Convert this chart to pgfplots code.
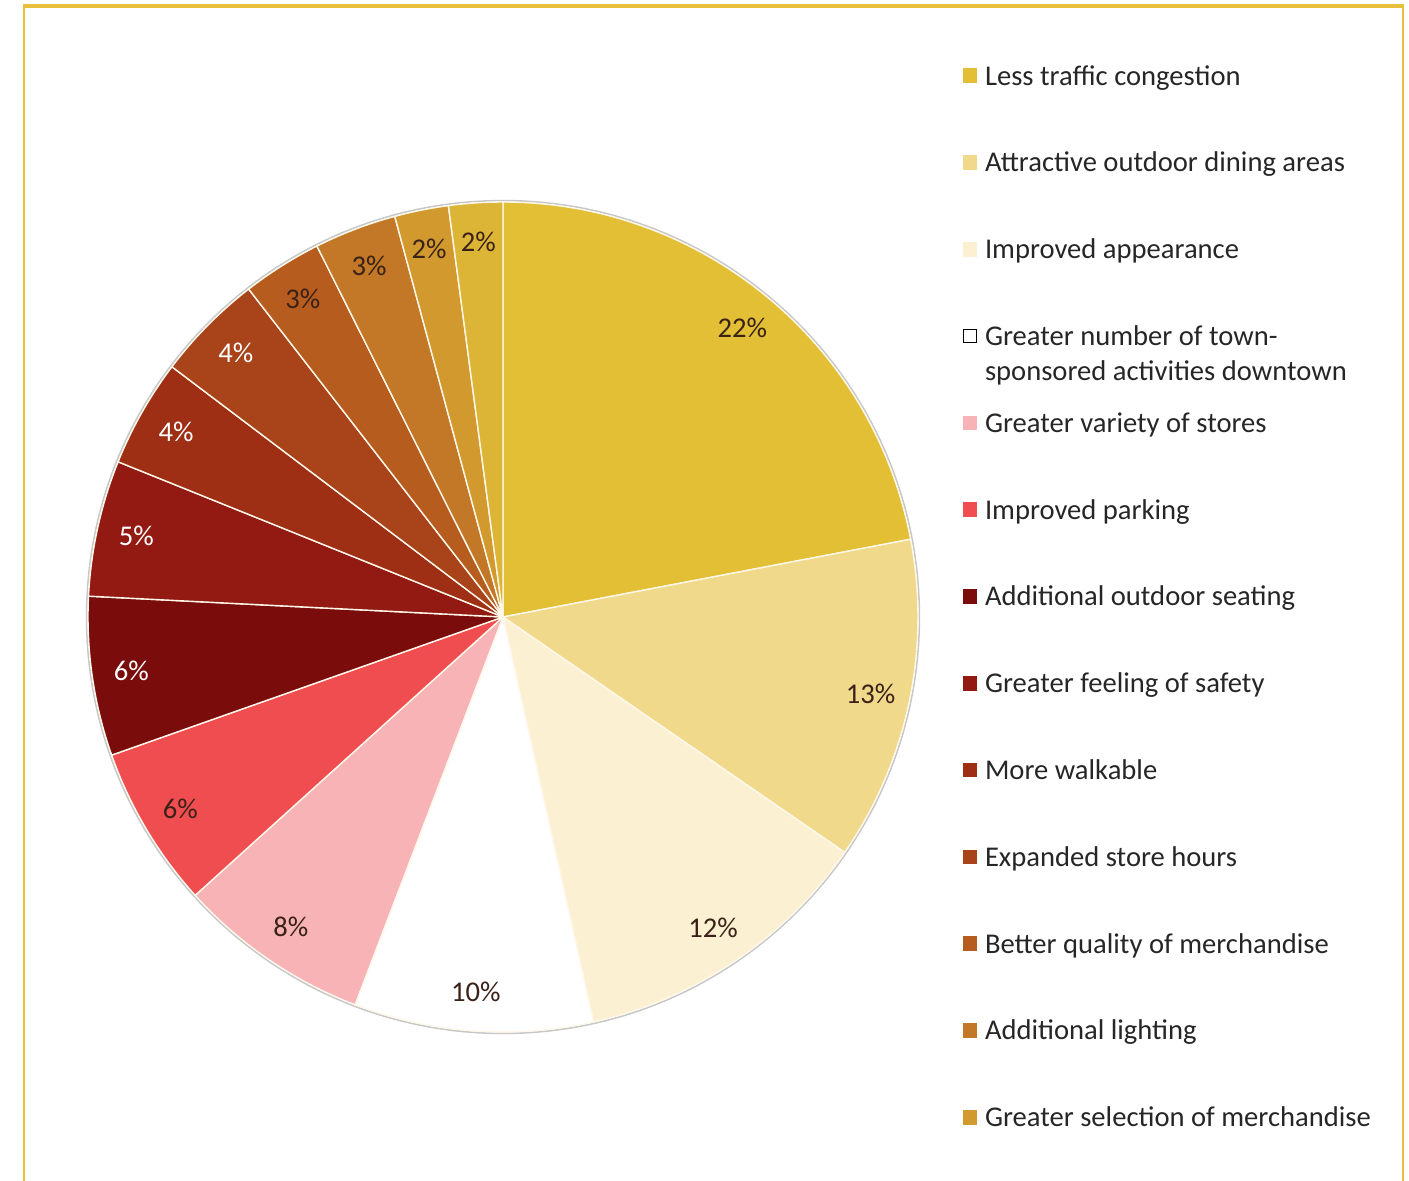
\documentclass[border=0pt]{standalone}
\usepackage{pgfplots}
\pgfplotsset{compat=1.18}
\usepackage{pgfplotstable}
\usepackage{fontspec}
\setmainfont{Carlito}

\definecolor{c1}{HTML}{E2BF35}
\definecolor{c2}{HTML}{F0D98A}
\definecolor{c3}{HTML}{FBF1D2}
\definecolor{c4}{HTML}{FFFFFF}
\definecolor{c5}{HTML}{F7B3B5}
\definecolor{c6}{HTML}{F04D50}
\definecolor{c7}{HTML}{7B0C0C}
\definecolor{c8}{HTML}{931A13}
\definecolor{c9}{HTML}{9E2E14}
\definecolor{c10}{HTML}{A8431A}
\definecolor{c11}{HTML}{B65C1E}
\definecolor{c12}{HTML}{C27826}
\definecolor{c13}{HTML}{D29A2E}
\definecolor{c14}{HTML}{DDB536}
\definecolor{dk}{HTML}{3A2218}
\definecolor{sepcol}{HTML}{FFF8EA}
\definecolor{framecol}{HTML}{E8C13C}

\newcommand\lbl{\fontsize{14.3}{17.5}\selectfont}
\def\R{207.5pt}

\pgfplotstableread{
val lab col tc
22.0 22 c1 dk
12.6 13 c2 dk
11.9 12 c3 dk
9.3 10 c4 dk
7.5 8 c5 dk
6.3 6 c6 dk
6.2 6 c7 white
5.3 5 c8 white
4.2 4 c9 white
4.2 4 c10 white
3.1 3 c11 dk
3.2 3 c12 dk
2.1 2 c13 dk
2.1 2 c14 dk
}\piedata

\begin{document}
\begin{tikzpicture}
\path[use as bounding box] (-251.5pt,-281.5pt) rectangle (453pt,308.5pt);
\draw[framecol, line width=1.1pt] (-239.5pt,-300pt) -- (-239.5pt,305.5pt);
\draw[framecol, line width=1.1pt] (450pt,305.5pt) -- (450pt,-300pt);
\draw[framecol, line width=1.6pt] (-240pt,305.5pt) -- (450.5pt,305.5pt);
\begin{axis}[
  at={(0pt,0pt)}, anchor=center,
  x=207.5pt, y=207.5pt,
  xmin=-1, xmax=1, ymin=-1, ymax=1,
  hide axis, clip=false,
  legend image code/.code={\fill[draw=none,#1] (0pt,1pt) rectangle (7.3pt,8.3pt);},
  legend style={draw=none, fill=none, at={(1.054,1.165)}, anchor=north west,
    inner sep=0pt, outer sep=0pt, row sep=30.4pt, column sep=3.8pt,
    font=\lbl, text=black!85,
    nodes={inner sep=0pt, text height=10pt, text depth=3pt},
    cells={anchor=base west}},
]
\draw[black!22, line width=0.8pt] (axis cs:0,0) circle[radius=208.2pt];
\pgfplotstablegetrowsof{\piedata}
\pgfmathtruncatemacro\N{\pgfplotsretval-1}
\def\cum{0}
\pgfplotsforeachungrouped \i in {0,...,\N}{%
  \pgfplotstablegetelem{\i}{val}\of\piedata \let\myval\pgfplotsretval
  \pgfplotstablegetelem{\i}{col}\of\piedata \let\mycol\pgfplotsretval
  \pgfmathsetmacro\aa{90-3.6*\cum}%
  \pgfmathsetmacro\bb{90-3.6*(\cum+\myval)}%
  \pgfmathsetmacro\xa{cos(\aa)}%
  \pgfmathsetmacro\ya{sin(\aa)}%
  \pgfmathsetmacro\cum{\cum+\myval}%
  \edef\temp{\noexpand\filldraw[fill=\mycol, draw=sepcol, line width=0.7pt, line join=round]
     (axis cs:0,0) -- (axis cs:\xa,\ya) arc[start angle=\aa, end angle=\bb, radius=\R] -- cycle;}%
  \temp
}
\def\cum{0}
\pgfplotsforeachungrouped \i in {0,...,\N}{%
  \pgfplotstablegetelem{\i}{val}\of\piedata \let\myval\pgfplotsretval
  \pgfplotstablegetelem{\i}{lab}\of\piedata \let\mylab\pgfplotsretval
  \pgfplotstablegetelem{\i}{tc}\of\piedata \let\mytc\pgfplotsretval
  \pgfmathsetmacro\aa{90-3.6*\cum}%
  \pgfmathsetmacro\bb{90-3.6*(\cum+\myval)}%
  \pgfmathsetmacro\mm{(\aa+\bb)/2}%
  \pgfmathsetmacro\xm{0.905*cos(\mm)}%
  \pgfmathsetmacro\ym{0.905*sin(\mm)}%
  \pgfmathsetmacro\cum{\cum+\myval}%
  \edef\temp{\noexpand\node[text=\mytc, font=\noexpand\lbl, inner sep=0pt] at (axis cs:\xm,\ym) {\mylab\noexpand\%};}%
  \temp
}
\addlegendimage{fill=c1}\addlegendentry{Less traffic congestion}
\addlegendimage{fill=c2}\addlegendentry{Attractive outdoor dining areas}
\addlegendimage{fill=c3}\addlegendentry{Improved appearance}
\addlegendimage{legend image code/.code={\filldraw[fill=white, draw=black, line width=0.8pt] (0.4pt,1.4pt) rectangle (6.9pt,7.9pt);}}\addlegendentry{\begin{tabular}[t]{@{}l@{}}Greater number of town-\\sponsored activities downtown\end{tabular}}
\addlegendimage{fill=c5}\addlegendentry{Greater variety of stores}
\addlegendimage{fill=c6}\addlegendentry{Improved parking}
\addlegendimage{fill=c7}\addlegendentry{Additional outdoor seating}
\addlegendimage{fill=c8}\addlegendentry{Greater feeling of safety}
\addlegendimage{fill=c9}\addlegendentry{More walkable}
\addlegendimage{fill=c10}\addlegendentry{Expanded store hours}
\addlegendimage{fill=c11}\addlegendentry{Better quality of merchandise}
\addlegendimage{fill=c12}\addlegendentry{Additional lighting}
\addlegendimage{fill=c13}\addlegendentry{Greater selection of merchandise}
\end{axis}
\end{tikzpicture}
\end{document}
